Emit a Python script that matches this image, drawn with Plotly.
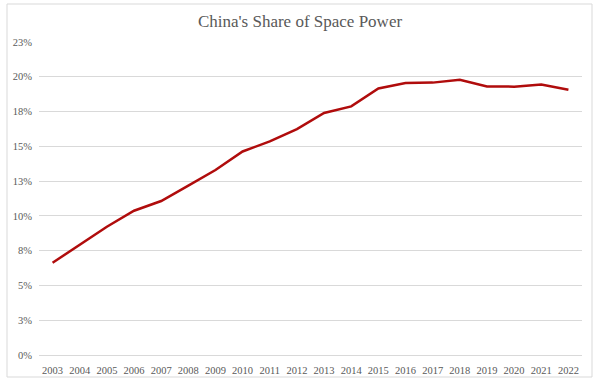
import plotly.graph_objects as go

years = [str(y) for y in range(2003, 2023)]
share = [0.0663, 0.0790, 0.0922, 0.1037, 0.1107, 0.1217, 0.1330, 0.1463, 0.1535, 0.1624,
         0.1740, 0.1787, 0.1916, 0.1955, 0.1958, 0.1979, 0.1931, 0.1929, 0.1945, 0.1907]
tick_vals = [0, 0.025, 0.05, 0.075, 0.10, 0.125, 0.15, 0.175, 0.20, 0.225]
tick_text = ["0%", "3%", "5%", "8%", "10%", "13%", "15%", "18%", "20%", "23%"]

title_text = "China's Share of Space Power"

fig = go.Figure()
fig.add_trace(go.Scatter(
    x=years, y=share, mode="lines",
    line=dict(color="#B00C0C", width=2.5),
    hoverinfo="skip", showlegend=False,
))

L, R, T, B = 39, 18, 42, 26
W, H = 600, 381
pw, ph = W - L - R, H - T - B

fig.update_layout(
    width=W, height=H,
    margin=dict(l=L, r=R, t=T, b=B),
    paper_bgcolor="white", plot_bgcolor="white",
    font=dict(family="Liberation Serif, Times New Roman, serif", color="#595959", size=10),
    title=dict(text=title_text, x=0.5, xanchor="center", y=1 - 21 / H, yanchor="middle",
               font=dict(size=17, color="#595959", family="Liberation Serif, Times New Roman, serif")),
    xaxis=dict(type="category", range=[-0.5, len(years) - 0.5], showgrid=False,
               showline=True, linecolor="#D9D9D9", linewidth=1, ticks="",
               tickfont=dict(size=10.5), ticklabelstandoff=5, fixedrange=True,
               automargin=False),
    yaxis=dict(range=[0, 0.225], tickvals=tick_vals, ticktext=tick_text,
               showgrid=True, gridcolor="#D9D9D9", gridwidth=1, zeroline=False,
               showline=False, ticks="", tickfont=dict(size=10.5), ticklabelstandoff=6,
               fixedrange=True, automargin=False),
    shapes=[dict(type="rect", xref="paper", yref="paper",
                 x0=(7 - L) / pw, x1=(592 - L) / pw,
                 y0=(H - B - 377) / ph, y1=(H - B - 4) / ph,
                 line=dict(color="#D9D9D9", width=1), fillcolor="rgba(0,0,0,0)", layer="above")],
)

fig.write_html("out.html", config={"displayModeBar": False, "staticPlot": True},
               post_script="document.body.style.margin='0';document.body.style.overflow='hidden';")
